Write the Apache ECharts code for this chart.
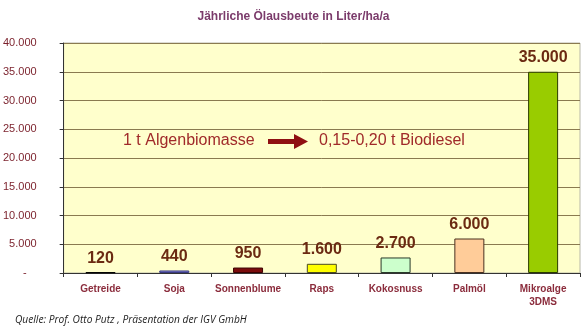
<!DOCTYPE html>
<html>
<head>
<meta charset="utf-8">
<script src="https://cdn.jsdelivr.net/npm/echarts@6/dist/echarts.min.js"></script>
<style>
  html, body { margin: 0; padding: 0; background: #ffffff; }
  #chart { width: 587px; height: 329px; }
</style>
</head>
<body>
<div id="chart"></div>
<script>
// Annual oil yield per crop, litres per hectare per year
const categories = ['Getreide', 'Soja', 'Sonnenblume', 'Raps', 'Kokosnuss', 'Palmöl', 'Mikroalge\n3DMS'];
const yields = [120, 440, 950, 1600, 2700, 6000, 35000];
const barColors = ['#1a1a1a', '#7b7bd0', '#7a0c0c', '#ffff00', '#ccffcc', '#ffcc99', '#99cc00'];
const barBorders = ['#000000', '#3a3a80', '#3a0000', '#4a4a20', '#2a3a2a', '#4a3020', '#2a3a00'];
const yTicks = { min: 0, max: 40000, step: 5000 };

const titleText = 'Jährliche Ölausbeute in Liter/ha/a';
const noteLeft = '1 t Algenbiomasse';
const noteRight = '0,15-0,20 t Biodiesel';
const sourceText = 'Quelle: Prof. Otto Putz , Präsentation der IGV GmbH';

// German thousands separator: 35000 -> "35.000"
function fmt(v) {
  return String(Math.round(v)).replace(/\B(?=(\d{3})+(?!\d))/g, '.');
}

const chart = echarts.init(document.getElementById('chart'), null, { renderer: 'canvas' });

chart.setOption({
  backgroundColor: '#ffffff',
  animation: false,
  title: {
    text: titleText,
    left: 'center',
    top: 6,
    textStyle: { fontFamily: 'Liberation Sans', fontSize: 12, fontWeight: 'bold', color: '#7b3b6b' }
  },
  grid: {
    left: 63, right: 7, top: 43, bottom: 56,
    show: true, backgroundColor: '#ffffcc', borderColor: '#b8b8a8', borderWidth: 1
  },
  xAxis: {
    type: 'category',
    data: categories,
    axisLine: { lineStyle: { color: '#333333', width: 1 } },
    axisTick: { show: true, length: 4, lineStyle: { color: '#333333' } },
    axisLabel: {
      interval: 0,
      margin: 10, lineHeight: 13,
      fontFamily: 'Liberation Sans', fontSize: 10, fontWeight: 'bold', color: '#8b2c3c'
    }
  },
  yAxis: {
    type: 'value',
    min: yTicks.min, max: yTicks.max, interval: yTicks.step,
    axisLine: { show: true, lineStyle: { color: '#333333', width: 1 } },
    axisTick: { show: true, length: 4, lineStyle: { color: '#333333' } },
    splitLine: { show: true, lineStyle: { color: '#8a7a50', width: 1 } },
    axisLabel: {
      margin: 27,
      fontFamily: 'Liberation Sans', fontSize: 11, color: '#7a1f2a',
      formatter: v => (v === 0 ? '{dash|-}' : fmt(v)),
      rich: { dash: { fontFamily: 'Liberation Sans', fontSize: 11, color: '#7a1f2a', padding: [0, 10, 0, 0] } }
    }
  },
  series: [{
    type: 'bar',
    data: yields.map((v, i) => ({
      value: v,
      itemStyle: { color: barColors[i], borderColor: barBorders[i] }
    })),
    barWidth: 30,
    itemStyle: { borderWidth: 1 },
    label: {
      show: true, position: 'top', distance: 6,
      fontFamily: 'Liberation Sans', fontSize: 16, fontWeight: 'bold', color: '#6b2a12',
      formatter: p => fmt(p.value)
    }
  }],
  graphic: [
    {
      type: 'text', left: 123, top: 133,
      style: { text: noteLeft, fontFamily: 'Liberation Sans', fontSize: 16, fill: '#a02a2a' }
    },
    {
      type: 'polygon',
      shape: { points: [[268, 139], [294, 139], [294, 134], [308, 141.5], [294, 149], [294, 144], [268, 144]] },
      style: { fill: '#8f0f12' }
    },
    {
      type: 'text', left: 319, top: 133,
      style: { text: noteRight, fontFamily: 'Liberation Sans', fontSize: 16, fill: '#a02a2a' }
    },
    {
      type: 'text', left: 15, top: 315,
      style: { text: sourceText, fontFamily: 'Open Sans', fontStyle: 'italic', fontSize: 10.2, fill: '#222222' }
    }
  ]
});
</script>
</body>
</html>
